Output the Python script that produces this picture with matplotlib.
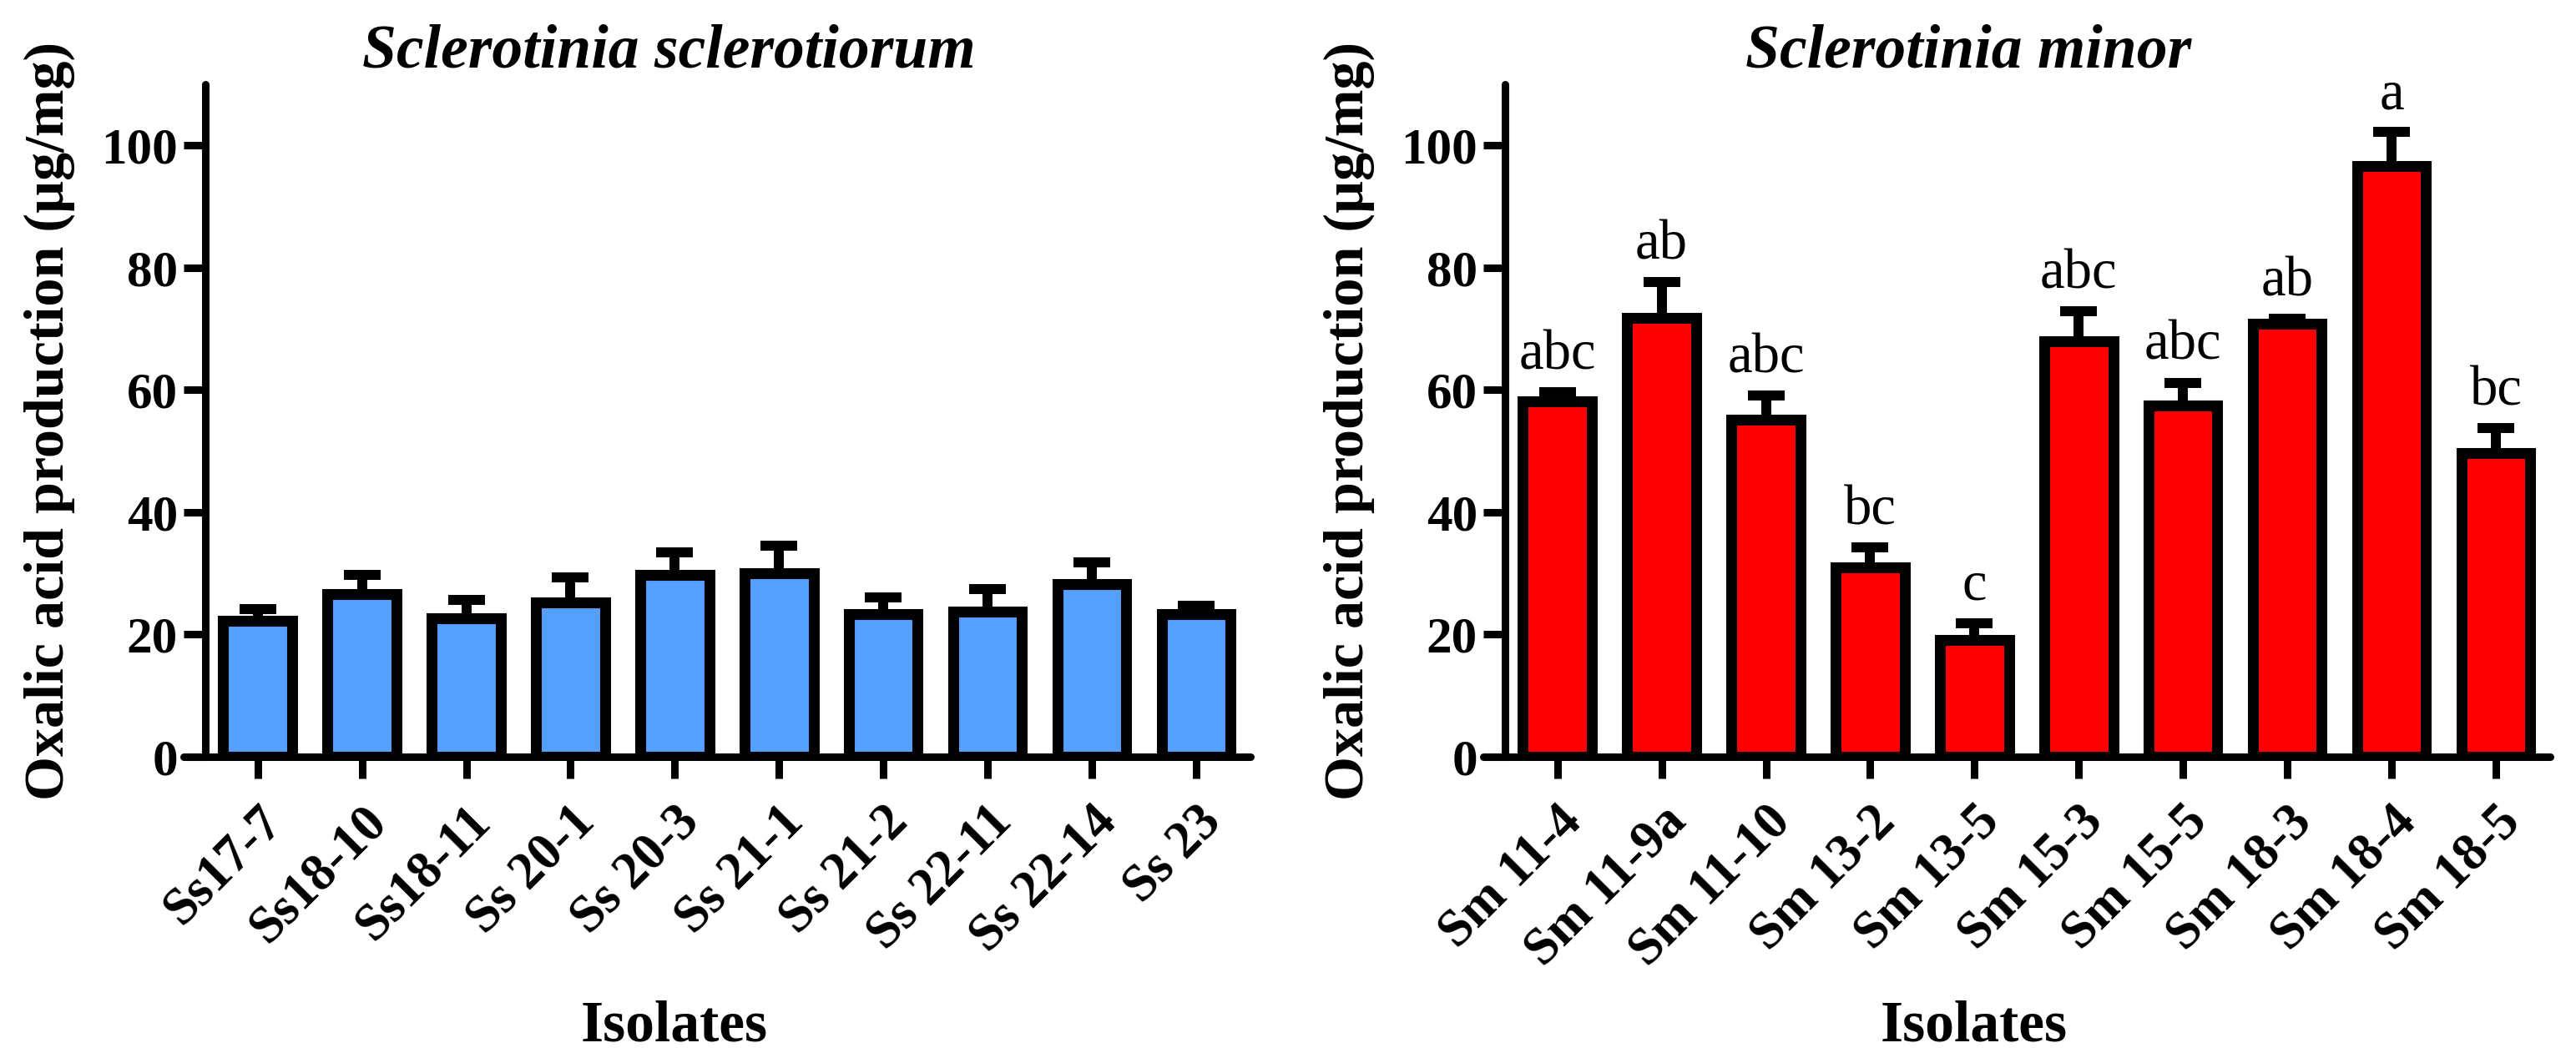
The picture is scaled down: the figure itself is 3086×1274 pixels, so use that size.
import matplotlib
matplotlib.use("Agg")
import matplotlib.pyplot as plt
import matplotlib.transforms as mtransforms
import numpy as np

plt.rcParams.update({
    "font.family": ["Liberation Serif", "DejaVu Serif"],
    "font.weight": "bold",
})

# ---- data ----
ss_isolates = ["Ss17-7", "Ss18-10", "Ss18-11", "Ss 20-1", "Ss 20-3",
               "Ss 21-1", "Ss 21-2", "Ss 22-11", "Ss 22-14", "Ss 23"]
ss_mean = [22.2, 26.6, 22.7, 25.3, 29.8, 30.0, 23.3, 23.8, 28.2, 23.3]
ss_err = [1.9, 3.1, 3.0, 4.1, 3.6, 4.5, 2.7, 3.7, 3.6, 1.4]

sm_isolates = ["Sm 11-4", "Sm 11-9a", "Sm 11-10", "Sm 13-2", "Sm 13-5",
               "Sm 15-3", "Sm 15-5", "Sm 18-3", "Sm 18-4", "Sm 18-5"]
sm_mean = [58.2, 71.8, 55.1, 31.0, 19.1, 68.0, 57.5, 70.8, 96.6, 49.7]
sm_err = [1.4, 5.8, 4.0, 3.2, 2.8, 4.9, 3.7, 0.8, 5.6, 4.1]
sm_letters = ["abc", "ab", "abc", "bc", "c", "abc", "abc", "ab", "a", "bc"]

W, H = 3086, 1274
fig = plt.figure(figsize=(W / 100, H / 100), dpi=100)

ax_l = fig.add_axes([220 / W, 1 - 907 / H, 1278 / W, 806 / H])
ax_r = fig.add_axes([1777 / W, 1 - 907 / H, 1278 / W, 806 / H])


def panel(ax, names, mean, err, color, title, letters=None):
    x = np.arange(len(names))
    ax.bar(x, mean, width=0.66, color=color, edgecolor="black",
           linewidth=9.4, zorder=2)
    ax.errorbar(x, mean, yerr=[np.zeros(len(err)), err], fmt="none",
                ecolor="black", elinewidth=8.6, capsize=16, capthick=8.6,
                zorder=3)

    ax.set_xlim(-0.71, 9.52)
    ax.set_ylim(0, 110)
    ax.set_yticks([0, 20, 40, 60, 80, 100])
    ax.set_xticks(x)
    ax.set_xticklabels(names, rotation=45, ha="right", va="top",
                       rotation_mode="anchor", fontsize=45, fontweight="bold")
    for lab in ax.get_xticklabels():
        lab.set_transform(lab.get_transform() +
                          mtransforms.ScaledTranslation(0.07, 0, fig.dpi_scale_trans))

    ax.spines["top"].set_visible(False)
    ax.spines["right"].set_visible(False)
    ax.spines["left"].set_position(("data", -0.5))
    for s in ("left", "bottom"):
        ax.spines[s].set_linewidth(6.5)
        ax.spines[s].set_capstyle("round")
    ax.tick_params(axis="y", length=19, width=6.5, pad=5, labelsize=44)
    ax.tick_params(axis="x", length=19, width=6.5, pad=16)

    ax.set_ylabel("Oxalic acid production (µg/mg)", fontsize=49,
                  fontweight="bold")
    ax.yaxis.set_label_coords(-0.102, 0.5)
    ax.text(0.46, -0.422, "Isolates", transform=ax.transAxes, fontsize=50,
            fontweight="bold", ha="center", va="baseline")
    ax.text(0.455, 1.026, title, transform=ax.transAxes, fontsize=53,
            fontweight="bold", style="italic", ha="center", va="baseline")

    if letters:
        for xi, m, e, t in zip(x, mean, err, letters):
            ax.annotate(t, (xi, m + e), xytext=(0, 20),
                        textcoords="offset points", ha="center",
                        va="baseline", fontsize=48, fontweight="normal")


panel(ax_l, ss_isolates, ss_mean, ss_err, "#559FFF", "Sclerotinia sclerotiorum")
panel(ax_r, sm_isolates, sm_mean, sm_err, "#FF0000", "Sclerotinia minor",
      sm_letters)

fig.savefig("out.png", dpi=100)
